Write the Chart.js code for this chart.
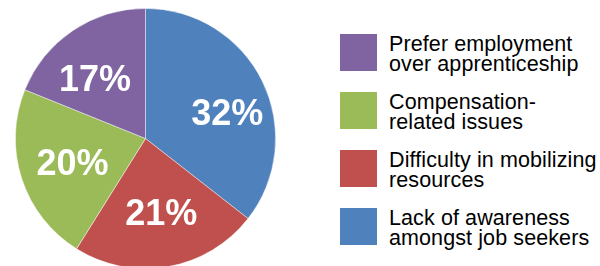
<!DOCTYPE html>
<html>
<head>
<meta charset="utf-8">
<script src="https://cdn.jsdelivr.net/npm/chart.js@4/dist/chart.umd.min.js"></script>
<style>
  html, body { margin: 0; padding: 0; background: #fff; overflow: hidden; }
  body { width: 600px; height: 266px; position: relative; font-family: "Liberation Sans", Arial, Helvetica, sans-serif; }
  #wrap { position: absolute; left: 0; top: 0; width: 291px; height: 277px; }
  #legend { position: absolute; left: 0; top: 0; }
  .item { position: absolute; left: 340px; width: 260px; height: 40px; }
  .box { position: absolute; left: 0; top: 0; width: 37px; height: 37px; }
  .txt { position: absolute; left: 49px; top: 0; font-size: 21.5px; line-height: 20px; letter-spacing: 0.1px; color: #000; white-space: nowrap; }
</style>
</head>
<body>
<div id="wrap"><canvas id="pie"></canvas></div>
<div id="legend"></div>
<script>
'use strict';

// slices, clockwise from 12 o'clock
var categories = [
  ['Lack of awareness', 'amongst job seekers'],
  ['Difficulty in mobilizing', 'resources'],
  ['Compensation-', 'related issues'],
  ['Prefer employment', 'over apprenticeship']
];
var values = [32, 21, 20, 17];
var colors = ['#4F81BD', '#C0504D', '#9BBB59', '#8064A2'];

// label placement tweaks per slice (radius fraction, angle nudge in degrees)
var labelRadius = [0.66, 0.58, 0.59, 0.605];
var labelNudge = [8, -2, 0, -6];

var pctLabels = {
  id: 'pctLabels',
  afterDatasetsDraw: function (chart) {
    var ctx = chart.ctx;
    var meta = chart.getDatasetMeta(0);
    ctx.save();
    ctx.fillStyle = '#fff';
    ctx.font = 'bold 36px "Liberation Sans", Arial, sans-serif';
    ctx.textAlign = 'center';
    ctx.textBaseline = 'alphabetic';
    meta.data.forEach(function (arc, i) {
      var p = arc.getProps(['x', 'y', 'startAngle', 'endAngle', 'outerRadius'], true);
      var mid = (p.startAngle + p.endAngle) / 2 + labelNudge[i] * Math.PI / 180;
      var r = p.outerRadius * labelRadius[i];
      var x = p.x + Math.cos(mid) * r;
      var y = p.y + Math.sin(mid) * r;
      ctx.fillText(values[i] + '%', x, y + 36 * 0.358);
    });
    ctx.restore();
  }
};

new Chart(document.getElementById('pie').getContext('2d'), {
  type: 'pie',
  data: {
    labels: categories.map(function (c) { return c.join(' '); }),
    datasets: [{
      data: values,
      backgroundColor: colors,
      borderColor: 'rgba(255,255,255,0.55)',
      borderWidth: 0.8
    }]
  },
  options: {
    responsive: true,
    maintainAspectRatio: false,
    animation: false,
    layout: { padding: { left: 15, right: 15, top: 8, bottom: 8 } },
    plugins: {
      legend: { display: false },
      tooltip: { enabled: false }
    }
  },
  plugins: [pctLabels]
});

// legend on the right, listed bottom slice last
var legend = document.getElementById('legend');
var order = [3, 2, 1, 0];
order.forEach(function (idx, n) {
  var item = document.createElement('div');
  item.className = 'item';
  item.style.top = (34 + n * 58) + 'px';
  var box = document.createElement('div');
  box.className = 'box';
  box.style.background = colors[idx];
  var txt = document.createElement('div');
  txt.className = 'txt';
  txt.innerHTML = categories[idx].join('<br>');
  item.appendChild(box);
  item.appendChild(txt);
  legend.appendChild(item);
});
</script>
</body>
</html>
